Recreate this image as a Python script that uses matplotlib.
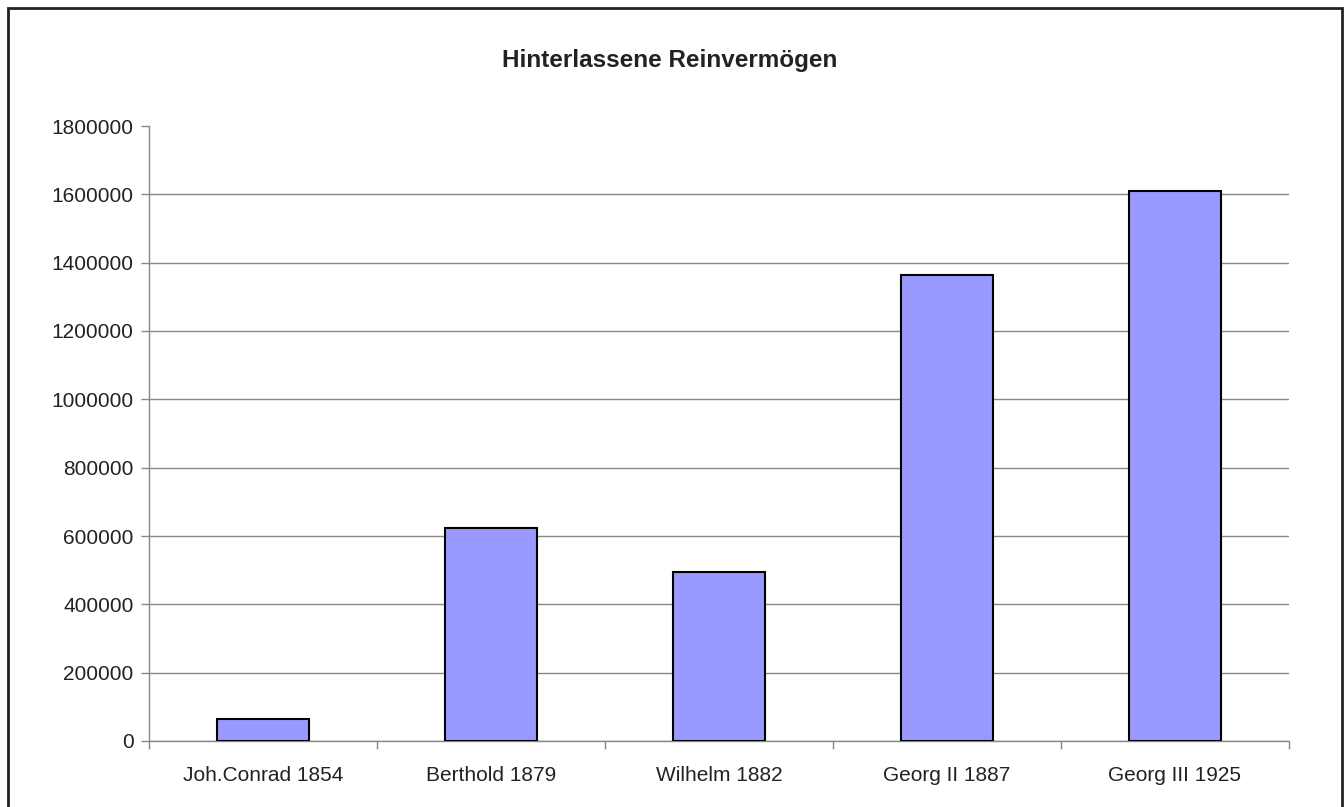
import numpy as np
import matplotlib
matplotlib.use("Agg")
import matplotlib.pyplot as plt
from matplotlib.patches import Rectangle

plt.rcParams['font.family'] = ['Liberation Sans', 'DejaVu Sans']

# data
names = ['Joh.Conrad 1854', 'Berthold 1879', 'Wilhelm 1882', 'Georg II 1887', 'Georg III 1925']
vermoegen = [63500, 623400, 494600, 1364800, 1609000]
yticks = [0, 200000, 400000, 600000, 800000, 1000000, 1200000, 1400000, 1600000, 1800000]

fig = plt.figure(figsize=(13.44, 8.07), dpi=100)
ax = fig.add_axes([149/1344, 1 - 741/807, 1140/1344, 615/807])

x = np.arange(len(names))
ax.bar(x, vermoegen, width=0.40, color='#9999FF', edgecolor='black', linewidth=1.5, zorder=3)

ax.set_xlim(-0.5, len(names) - 0.5)
ax.set_ylim(0, 1800000)
ax.set_yticks(yticks)
ax.set_yticklabels([str(v) for v in yticks])
ax.yaxis.grid(True, color='#888888', linewidth=1)
ax.yaxis.get_gridlines()[-1].set_visible(False)
ax.set_axisbelow(True)

# category ticks sit between the bars, labels in the middle
ax.set_xticks(np.arange(len(names) + 1) - 0.5)
ax.set_xticklabels([])
ax.set_xticks(x, minor=True)
ax.set_xticklabels(names, minor=True)
ax.tick_params(axis='x', which='minor', length=0, pad=18, labelsize=15, labelcolor='#222222')
ax.tick_params(axis='x', which='major', length=6, color='#888888', width=1)
ax.tick_params(axis='y', length=6, color='#888888', width=1, pad=5, labelsize=15, labelcolor='#222222')

for s in ['top', 'right']:
    ax.spines[s].set_visible(False)
for s in ['left', 'bottom']:
    ax.spines[s].set_color('#888888')
    ax.spines[s].set_linewidth(1)

fig.text(670/1344, 1 - 60/807, 'Hinterlassene Reinvermögen', ha='center', va='center',
         fontsize=17.5, fontweight='bold', color='#222222')

# outer frame round the whole chart
fig.patches.append(Rectangle((7.5/1344, -0.02), 1334/1344, 1.02 - 8/807, transform=fig.transFigure,
                             fill=False, edgecolor='#222222', linewidth=2))

fig.savefig('out.png', dpi=100, facecolor='white')
